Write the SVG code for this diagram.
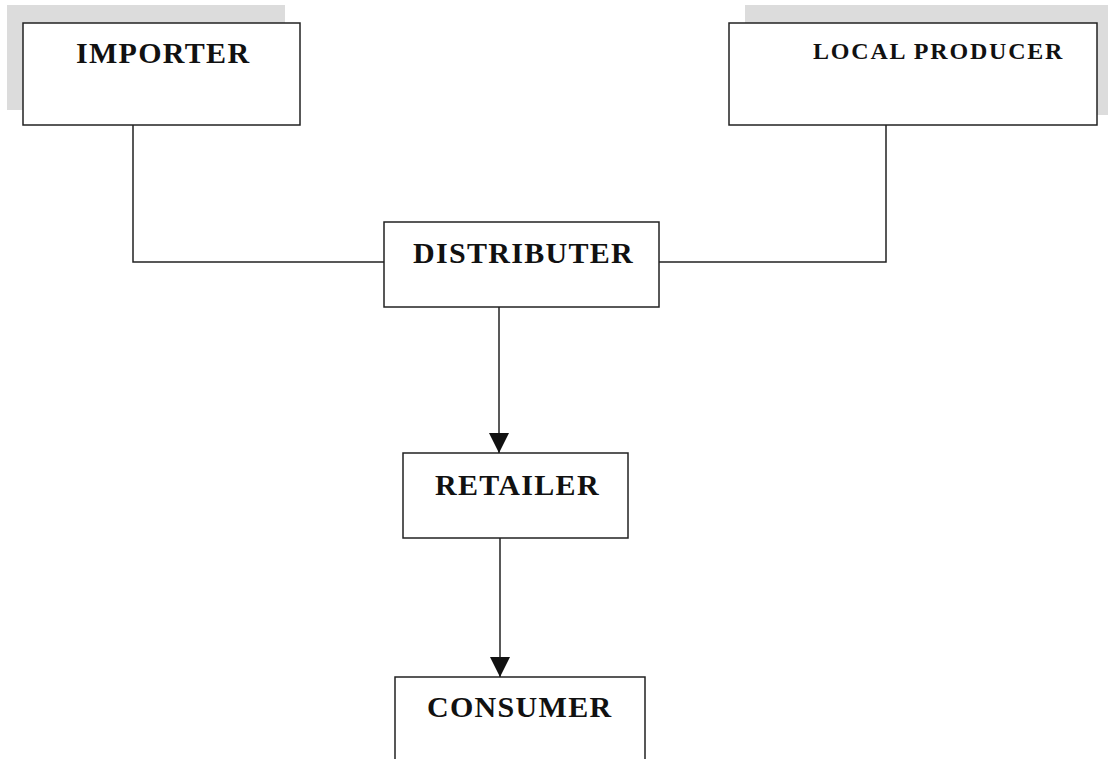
<svg xmlns="http://www.w3.org/2000/svg" width="1112" height="759" viewBox="0 0 1112 759">
<style>
.box{fill:#fff;stroke:#222;stroke-width:1.5}
.shadow{fill:#dcdcdc}
.lbl{font-family:"Liberation Serif","Times New Roman",serif;font-weight:bold;font-size:30px;letter-spacing:1.3px;fill:#111}
.sm{font-size:24px;letter-spacing:1.8px}
.ln{fill:none;stroke:#222;stroke-width:1.5}
</style>
<defs>
<marker id="arr" viewBox="0 0 20 20" refX="20" refY="10" markerWidth="20" markerHeight="20" markerUnits="userSpaceOnUse" orient="auto">
<path d="M0,0 L20,10 L0,20 Z" fill="#111"/>
</marker>
</defs>
<rect width="1112" height="759" fill="#fff"/>
<g id="importer">
<rect class="shadow" x="7" y="5" width="278" height="105"/>
<rect class="box" x="23" y="23" width="277" height="102"/>
<text class="lbl" x="76" y="63">IMPORTER</text>
</g>
<g id="local-producer">
<rect class="shadow" x="745" y="5" width="363" height="110"/>
<rect class="box" x="729" y="23" width="368" height="102"/>
<text class="lbl sm" x="813" y="59">LOCAL PRODUCER</text>
</g>
<g id="distributer">
<rect class="box" x="384" y="222" width="275" height="85"/>
<text class="lbl" x="413" y="263">DISTRIBUTER</text>
</g>
<g id="retailer">
<rect class="box" x="403" y="453" width="225" height="85"/>
<text class="lbl" x="435" y="495">RETAILER</text>
</g>
<g id="consumer">
<path class="box" d="M395,760 V677 H645 V760"/>
<text class="lbl" x="427" y="717">CONSUMER</text>
</g>
<g id="connectors">
<path class="ln" d="M133,125 V262 H384"/>
<path class="ln" d="M886,125 V262 H659"/>
<path class="ln" d="M499,307 V453" marker-end="url(#arr)"/>
<path class="ln" d="M500,538 V677" marker-end="url(#arr)"/>
</g>
</svg>
